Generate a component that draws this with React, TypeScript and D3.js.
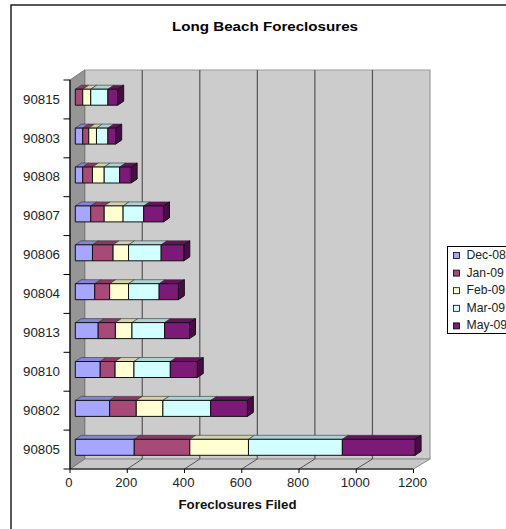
import React from "react";
import * as d3 from "d3";

const categories = ["90815","90803","90808","90807","90806","90804","90813","90810","90802","90805"];
const seriesNames = ["Dec-08","Jan-09","Feb-09","Mar-09","May-09"];
const dec08 = [0,26,26,54,60,68,80,87,120,206];
const jan09 = [26,21,34,47,72,52,60,52,93,194];
const feb09 = [28,27,41,66,54,66,58,66,93,205];
const mar09 = [60,40,54,72,114,107,114,127,167,328];
const may09 = [34,27,40,69,79,67,87,94,128,254];
const seriesValues = [dec08,jan09,feb09,mar09,may09];
const xTicks = [0,200,400,600,800,1000,1200];
const front = ["#a6a6ff","#a84a78","#ffffd2","#d2ffff","#7c1a78"];
const top = ["#8686d0","#8a3a62","#d2d2ac","#acd2d2","#641260"];
const side = ["#6a6aa8","#6e2e4e","#a8a888","#88a8a8","#4a0c48"];

const dy = 10;
const bdx = 6, bdy = 4;
const x = d3.scaleLinear().domain([0,1200]).range([70,413.5]);
const xb = d3.scaleLinear().domain([0,1200]).range([84.7,430]);
const y = d3.scaleBand().domain(categories).range([80,469]);
const font = "Liberation Sans, Arial, sans-serif";

export default function App() {
  return (
    <svg width={506} height={529} style={{position:"absolute",left:0,top:0}} fontFamily={font}>
      <rect x={0} y={0} width={506} height={529} fill="#fff"/>
      <rect x={11} y={5} width={520} height={560} fill="#fff" stroke="#111" strokeWidth={1.4}/>
      <text x={265} y={31} textAnchor="middle" fontSize={12.5} fontWeight="bold" fill="#000" textLength={186} lengthAdjust="spacingAndGlyphs">Long Beach Foreclosures</text>
      <polygon points={`${xb(0)},70 ${xb(1200)},70 ${xb(1200)},${469-dy} ${xb(0)},${469-dy}`} fill="#cccccc" stroke="#999" strokeWidth={1.2}/>
      <polygon points={`${x(0)},469 ${xb(0)},${469-dy} ${xb(1200)},${469-dy} ${x(1200)},469`} fill="#c8c8c8" stroke="#8c8c8c" strokeWidth={1}/>
      <polygon points={`${x(0)},80 ${xb(0)},70 ${xb(0)},${469-dy} ${x(0)},469`} fill="#969696" stroke="#777" strokeWidth={1}/>
      {xTicks.slice(1,-1).map(t => (
        <g key={t}>
          <line x1={xb(t)} x2={xb(t)} y1={70} y2={469-dy} stroke="#555" strokeWidth={1.2}/>
          <line x1={x(t)} x2={xb(t)} y1={469} y2={469-dy} stroke="#555" strokeWidth={1}/>
        </g>
      ))}
      {categories.map((c,i) => {
        let acc = 0;
        const by = (y(c) as number) + 9.2;
        const h = 16;
        const off = 5.3;
        return (
          <g key={c}>
            {seriesValues.map((vals,s) => {
              const v = vals[i];
              if (!v) return null;
              const x0 = x(acc)+off;
              const x1 = x(acc+v)+off;
              acc += v;
              const last = s === seriesValues.length-1;
              return (
                <g key={s} stroke="#111" strokeWidth={1} strokeLinejoin="round">
                  <polygon points={`${x0},${by} ${x0+bdx},${by-bdy} ${x1+bdx},${by-bdy} ${x1},${by}`} fill={top[s]} stroke="#333" strokeWidth={0.6}/>
                  {last && <polygon points={`${x1},${by} ${x1+bdx},${by-bdy} ${x1+bdx},${by+h-bdy} ${x1},${by+h}`} fill={side[s]}/>}
                  <rect x={x0} y={by} width={x1-x0} height={h} fill={front[s]}/>
                </g>
              );
            })}
          </g>
        );
      })}
      <line x1={70} x2={70} y1={80} y2={469} stroke="#000" strokeWidth={1.2}/>
      {categories.map(c => (
        <g key={c}>
          <line x1={63.5} x2={70} y1={y(c) as number} y2={y(c) as number} stroke="#000"/>
          <text x={60} y={(y(c) as number)+y.bandwidth()/2+4.2} textAnchor="end" fontSize={12} fill="#222" textLength={37} lengthAdjust="spacingAndGlyphs">{c}</text>
        </g>
      ))}
      <line x1={63.5} x2={70} y1={469} y2={469} stroke="#000"/>
      <line x1={70} x2={413.5} y1={469} y2={469} stroke="#000" strokeWidth={1.2}/>
      {xTicks.map(t => (
        <g key={t}>
          <line x1={x(t)} x2={x(t)} y1={469} y2={473} stroke="#000"/>
          <text x={x(t)-1} y={486.5} textAnchor="middle" fontSize={12} fill="#222" textLength={String(t).length*7.3} lengthAdjust="spacingAndGlyphs">{t}</text>
        </g>
      ))}
      <text x={237.5} y={509} textAnchor="middle" fontSize={12} fontWeight="bold" fill="#111" textLength={118} lengthAdjust="spacingAndGlyphs">Foreclosures Filed</text>
      <rect x={447.5} y={246.5} width={70} height={87} fill="#fff" stroke="#000" strokeWidth={1}/>
      {seriesNames.map((n,i) => (
        <g key={n}>
          <rect x={453.5} y={252.5+i*17.6} width={6} height={6} fill={front[i]} stroke="#000" strokeWidth={0.8}/>
          <text x={466.5} y={259+i*17.6} fontSize={12.2} fill="#222">{n}</text>
        </g>
      ))}
    </svg>
  );
}
